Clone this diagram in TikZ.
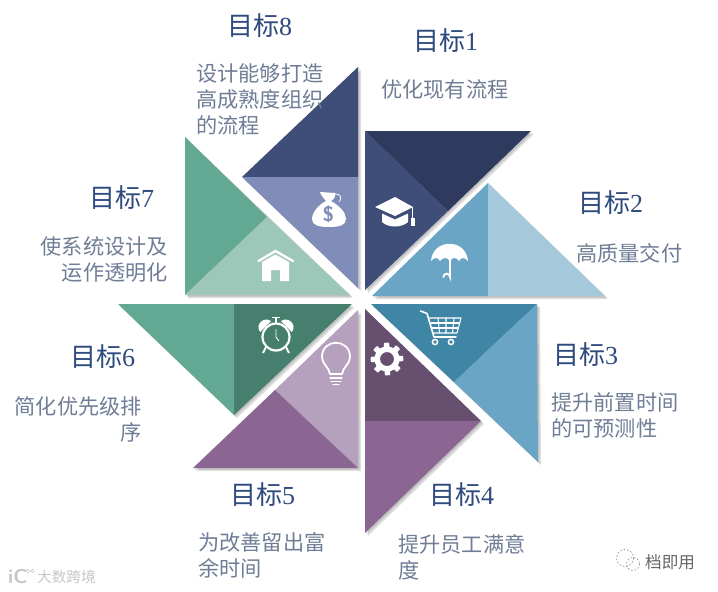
\documentclass[tikz,border=0pt]{standalone}
\usepackage{fontspec}
\setmainfont{Liberation Serif}
\newfontfamily\cjk{Noto Sans CJK SC}
\definecolor{navyd}{HTML}{2F3A5F}
\definecolor{navym}{HTML}{3F4E78}
\definecolor{navyl}{HTML}{7F8DB8}
\definecolor{blued}{HTML}{3F85A6}
\definecolor{bluem}{HTML}{6BA5C5}
\definecolor{bluel}{HTML}{A5C9DA}
\definecolor{purpd}{HTML}{674F70}
\definecolor{purpm}{HTML}{8B6692}
\definecolor{purpl}{HTML}{B5A1BE}
\definecolor{greend}{HTML}{467F6D}
\definecolor{greenm}{HTML}{62A893}
\definecolor{greenl}{HTML}{9DC7B9}
\definecolor{titlec}{HTML}{2F4A7E}
\definecolor{bodyc}{HTML}{707D96}
\tikzset{
  titlelabel/.style={text=titlec,font=\fontsize{26}{28}\selectfont,inner sep=0pt,anchor=west},
  bodyleft/.style={text=bodyc,font=\cjk\fontsize{21.2}{26}\selectfont,inner sep=0pt,anchor=north west,align=left},
  bodyright/.style={text=bodyc,font=\cjk\fontsize{21.2}{26}\selectfont,inner sep=0pt,anchor=north east,align=right},
  softshadow/.style={fill=black,fill opacity=.13,draw=none},
  iconw/.style={fill=white,draw=none},
  iconl/.style={draw=white,line width=1.8pt,fill=none,line cap=round,line join=round},
  mark/.style={text=#1,inner sep=0pt}
}
\newcommand{\vane}[6]{%
  \fill[softshadow] ([shift={(1.5,1.5)}]#1) -- ([shift={(1.5,1.5)}]#2) -- ([shift={(1.5,1.5)}]#3) -- cycle;
  \fill[softshadow] ([shift={(3,3)}]#1) -- ([shift={(3,3)}]#2) -- ([shift={(3,3)}]#3) -- cycle;
  \fill[#5] (#1) -- (#2) -- (#4) -- cycle;
  \fill[#6] (#2) -- (#3) -- (#4) -- cycle;
}
\newcommand{\goal}[4]{\node[titlelabel] (t#1) at (#2,#3) {{\cjk 目标}#4};}
\begin{document}
\begin{tikzpicture}[x=1pt,y=-1pt]
\useasboundingbox (0,0) rectangle (718,592);
\fill[white] (0,0) rectangle (718,592);

\vane{365,290}{365,131}{531,131}{448,211}{navym}{navyd}
\vane{372,296}{488,183}{605,296}{488,296}{bluem}{bluel}
\fill[softshadow] (372.5,305.5) -- (538.5,305.5) -- (539.5,463.5) -- cycle;
\fill[softshadow] (374,307) -- (540,307) -- (541,465) -- cycle;
\fill[blued] (371,304) -- (537,304) -- (454,382) -- cycle;
\fill[bluem] (537,304) -- (538,462) -- (454,382) -- cycle;
\vane{365,309}{481,421}{365,533}{365,421}{purpd}{purpm}
\fill[softshadow] (359.5,311.5) -- (359.5,469.5) -- (194.5,469.5) -- cycle;
\fill[softshadow] (361,313) -- (361,471) -- (196,471) -- cycle;
\fill[purpl] (358,310) -- (358,468) -- (275,390) -- cycle;
\fill[purpm] (275,390) -- (358,468) -- (193,468) -- cycle;
\vane{352,304}{234,415}{118,304}{234,304}{greend}{greenm}
\fill[softshadow] (186.5,138.5) -- (186.5,296.5) -- (351.5,296.5) -- cycle;
\fill[softshadow] (188,140) -- (188,298) -- (353,298) -- cycle;
\fill[greenm] (185,137) -- (267,217) -- (185,295) -- cycle;
\fill[greenl] (267,217) -- (350,295) -- (185,295) -- cycle;
\vane{358,67}{242,177}{358,288}{358,177}{navym}{navyl}

% cap
\fill[iconw] (375,207) -- (395,197) -- (413,207) -- (395,216) -- cycle;
\fill[iconw] (382,213.5) -- (395,219.5) -- (408,213.5) -- (408,222) .. controls (402,228) and (388,228) .. (382,222) -- cycle;
\draw[white,line width=.9pt] (412.5,207) -- (412.5,219);
\fill[iconw] (411,218) rectangle (415,225.5);

% umbrella
\fill[iconw] (431,261) .. controls (433,238) and (466,238) .. (468,261)
  .. controls (465,257) and (461,257) .. (459,261) .. controls (457,257) and (452,257) .. (450,261)
  .. controls (447,257) and (443,257) .. (440,261) .. controls (438,257) and (434,257) .. (431,261) -- cycle;
\draw[white,line width=1.8pt,line cap=round] (450,258) -- (450,277) arc[start angle=0,end angle=-180,radius=3.3];

% cart
\begin{scope}[white,line width=1.1pt,line cap=round,line join=round]
\draw[line width=1.6pt] (420.5,311) -- (427,313.5) -- (434,337) -- (456,337);
\draw (429,318) -- (461,318) -- (457,333) -- (433,333);
\draw (431,323) -- (459.7,323) (432,328) -- (458.3,328);
\draw (438,318) -- (439.5,333) (446,318) -- (446,333) (454,318) -- (452.5,333);
\draw[line width=1.5pt] (435,342) circle[radius=2.6] (451,342) circle[radius=2.6];
\end{scope}

% gear
\fill[iconw,even odd rule]
  plot[samples=97,domain=0:360] ({387+(mod(\x+11.25,45)<22.5?16.3:12.5)*cos(\x)},{359+(mod(\x+11.25,45)<22.5?16.3:12.5)*sin(\x)}) -- cycle
  (387,359) circle[radius=7];

% bulb
\draw[iconl] (330,374) .. controls (329,367) and (322,364) .. (322,357) .. controls (322,338) and (350,338) .. (350,357) .. controls (350,364) and (343,367) .. (342,374) -- cycle;
\draw[iconl,line width=1.4pt] (330,378) -- (342,378) (331,381.5) -- (341,381.5);
\draw[iconl,line width=1.4pt] (333,384.5) -- (339,384.5);

% clock
\draw[iconl,line width=2.2pt] (276,337) circle[radius=13.5];
\fill[iconw] (260,332) .. controls (255,325) and (263,316) .. (271,321) -- cycle;
\fill[iconw] (292,332) .. controls (297,325) and (289,316) .. (281,321) -- cycle;
\draw[white,line width=1.2pt] (276,318) -- (276,323) (272,317.5) -- (280,317.5);
\draw[white,line width=2pt] (266,347) -- (263,353) (286,347) -- (289,353);
\draw[white,line width=.9pt] (276,329) -- (276,337) -- (279,341);

% house
\draw[white,line width=2.4pt,line cap=round,line join=round] (258.5,261) -- (275.5,251) -- (293,261);
\fill[iconw,even odd rule] (262,262) -- (275.5,254.5) -- (289,262) -- (289,281) -- (280,281) -- (280,270) -- (271,270) -- (271,281) -- (262,281) -- cycle;

% money bag
\fill[iconw] (320,192) -- (335,193) .. controls (336,197) and (333,200) .. (331,201) .. controls (340,206) and (346,213) .. (346,219) .. controls (346,225) and (340,227) .. (329,227)
  .. controls (318,227) and (312,225) .. (312,219) .. controls (312,213) and (318,205) .. (326,201) .. controls (324,198) and (321,196) .. (320,192) -- cycle;
\draw[white,line width=.8pt] (334,194) .. controls (340,193) and (343,198) .. (339,202);
\node[mark=navyl,font=\sffamily\bfseries\fontsize{21}{21}\selectfont] (dollar) at (328.5,214.5) {\$};

% titles
\goal{1}{413}{41}{1}
\goal{2}{578}{203}{2}
\goal{3}{553}{355}{3}
\goal{4}{429}{495}{4}
\goal{5}{230}{495}{5}
\goal{6}{70}{357}{6}
\goal{7}{89}{198}{7}
\goal{8}{227}{26}{8}

% descriptions
\node[bodyleft] (b1) at (381,79) {优化现有流程};
\node[bodyleft] (b2) at (576,243) {高质量交付};
\node[bodyleft] (b3) at (551,392) {提升前置时间\\的可预测性};
\node[bodyleft] (b4) at (398,534) {提升员工满意\\度};
\node[bodyleft] (b5) at (198,532) {为改善留出富\\余时间};
\node[bodyright] (b6) at (142,396) {简化优先级排\\序};
\node[bodyright] (b7) at (168,236) {使系统设计及\\运作透明化};
\node[bodyleft] (b8) at (196,63) {设计能够打造\\高成熟度组织\\的流程};

% watermarks
\node[text=black!22,font=\cjk\fontsize{14.6}{15}\selectfont,inner sep=0pt,anchor=west] (w1) at (37,577) {大数跨境};
\node[text=black!22,font=\sffamily\bfseries\fontsize{20}{20}\selectfont,inner sep=0pt,anchor=west] (w0) at (8,577) {iC};
\draw[black!22,line width=.6pt] (28,571) circle[radius=1.8] (32.5,571) circle[radius=1.8];
\node[text=black!60,font=\cjk\fontsize{16.6}{17}\selectfont,inner sep=0pt,anchor=west] (w2) at (645,562) {档即用};
\draw[black!45,line width=.7pt,dash pattern=on 1.5pt off 2pt] (625,558) circle[radius=8.5] (633,564) circle[radius=6.5];
\end{tikzpicture}
\end{document}
